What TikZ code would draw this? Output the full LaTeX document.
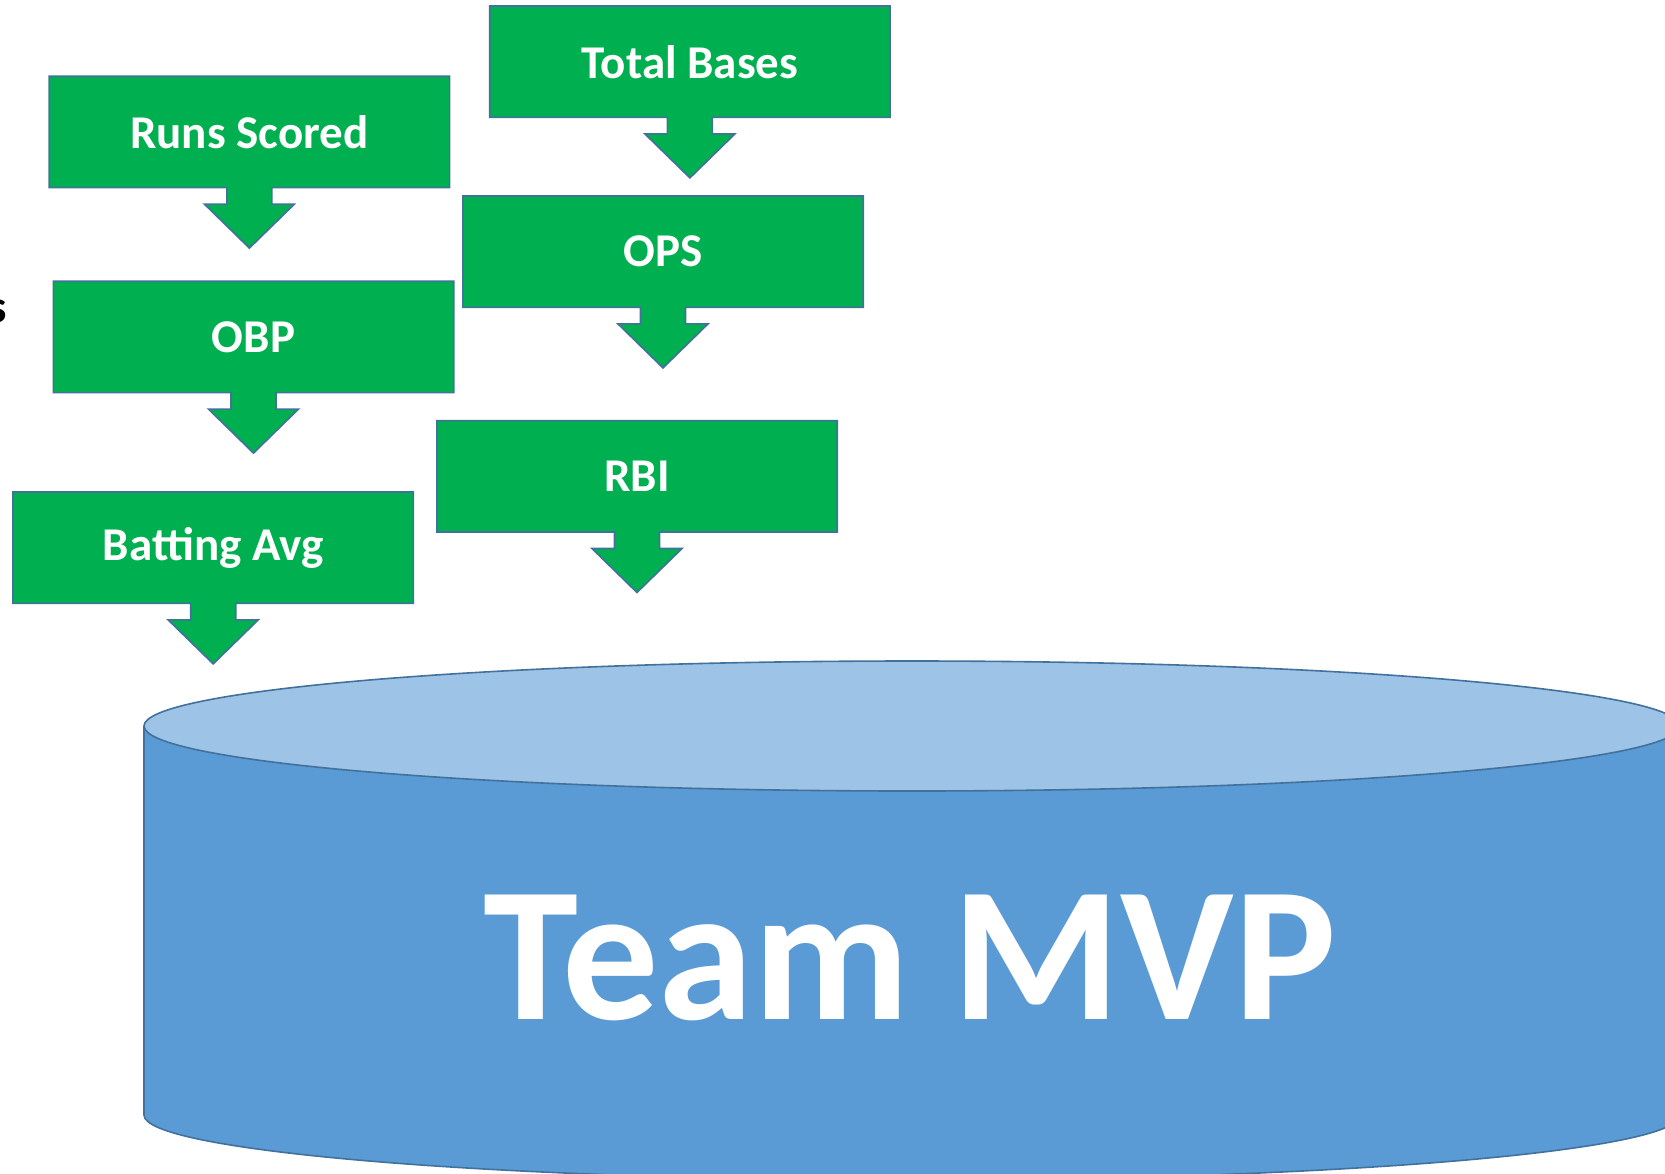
\documentclass[tikz,border=0pt]{standalone}
\usepackage{fontspec}
\setmainfont{Carlito}
\definecolor{boxgreen}{HTML}{00B050}
\definecolor{outlineblue}{HTML}{41719C}
\definecolor{cylbody}{HTML}{5B9BD5}
\definecolor{cyltop}{HTML}{9DC3E6}
\tikzset{
  statbox/.style={rectangle, minimum width=400pt, minimum height=111pt, inner sep=0pt,
    text=white, font=\fontsize{47}{56}\selectfont\bfseries},
  calloutshape/.style={fill=boxgreen, draw=outlineblue, line width=1.6pt, line join=miter},
  cylshape/.style={draw=outlineblue, line width=1.6pt}
}
\begin{document}
\begin{tikzpicture}[x=1pt,y=-1pt]
\useasboundingbox (0,0) rectangle (1665,1173);
% partly hidden text at the left edge
\node[anchor=base east, inner sep=0pt, font=\fontsize{46}{54}\selectfont\bfseries, text=black] (cut) at (7,322) {s};
% cylinder
\coordinate (ctop) at (912,726);
\coordinate (cbot) at (912,1115);
\filldraw[cylshape, fill=cylbody] (cbot) ellipse [x radius=768, y radius=65];
\fill[cylbody] (144,726) rectangle (1680,1115);
\draw[cylshape] (144,726) -- (144,1115);
\draw[cylshape] (1680,726) -- (1680,1115);
\filldraw[cylshape, fill=cyltop] (ctop) ellipse [x radius=768, y radius=65];
\node[text=white, font=\fontsize{192}{200}\selectfont\bfseries, inner sep=0pt] (mvp) at (910,958) {Team MVP};
% callout boxes
\foreach \nm/\x/\y/\txt in {tb/489.7/6/Total Bases, rs/49.2/76.2/Runs Scored, ops/462.8/196/OPS, obp/53.3/281.2/OBP, rbi/436.8/420.6/RBI, ba/13/492/Batting Avg}{
  \node[statbox, anchor=north west] (\nm) at (\x,\y) {};
  \path[calloutshape] (\nm.north west) -- (\nm.north east) -- (\nm.south east)
    -- ([xshift=22.5pt]\nm.south) -- ++(0,16.5) -- ++(22.5,0) -- ++(-45,44)
    -- ++(-45,-44) -- ++(22.5,0) -- ++(0,-16.5) -- (\nm.south west) -- cycle;
  \node[statbox] at (\nm.center) {\txt};
}
\end{tikzpicture}
\end{document}
